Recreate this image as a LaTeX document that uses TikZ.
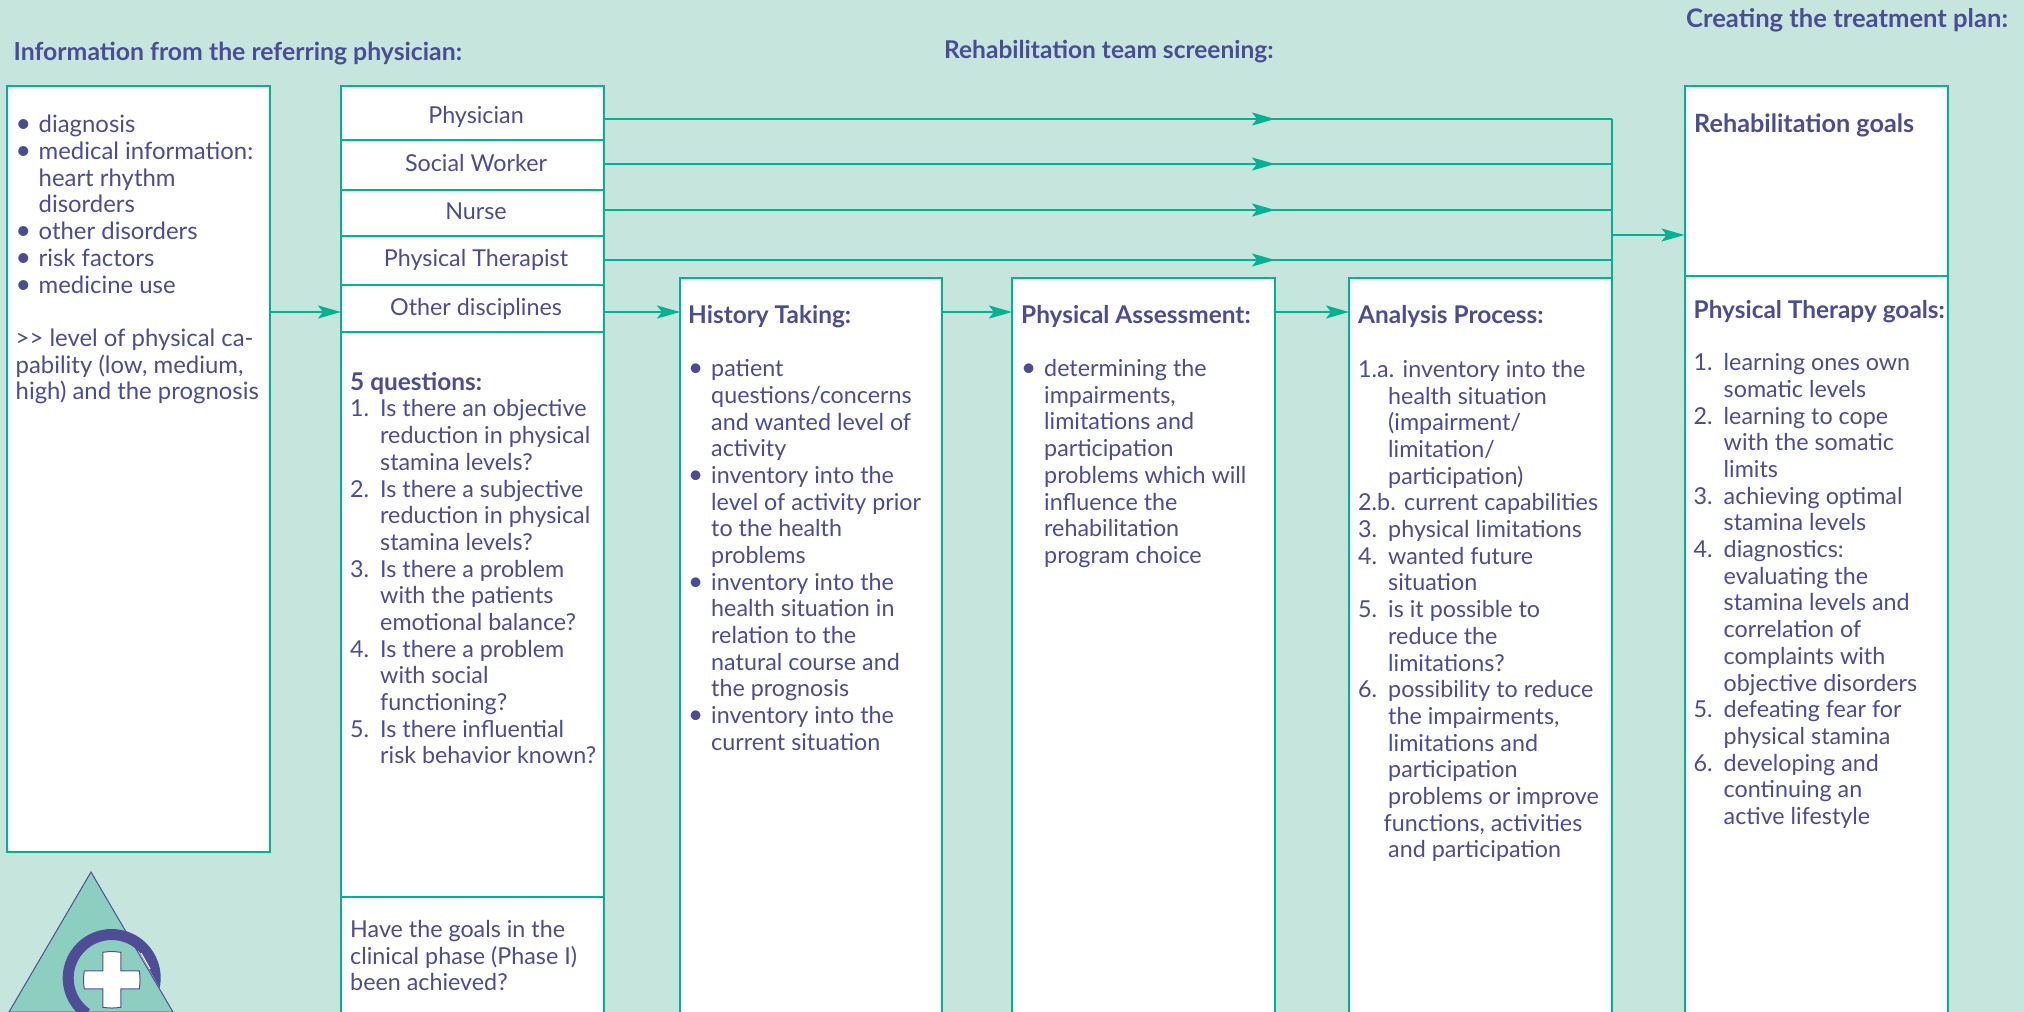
\documentclass[tikz,border=0pt]{standalone}
\usepackage{fontspec}
\setmainfont{Lato}
\usetikzlibrary{arrows.meta, calc}
\definecolor{rehabbg}{RGB}{198,230,221}
\definecolor{rehabline}{RGB}{0,178,148}
\definecolor{rehabtext}{RGB}{75,76,148}
\definecolor{rehablogo}{RGB}{140,207,192}
\definecolor{rehabring}{RGB}{79,77,150}
\newcommand{\bul}{\makebox[23pt][l]{\scalebox{1.12}{\textbullet}}}
\newcommand{\num}[1]{\makebox[30pt][l]{#1}}
\newcommand{\cont}{\hspace*{30pt}}
\newcommand{\bcont}{\hspace*{23pt}}
\newcommand{\headfont}{\fontsize{24.4}{26.7}\selectfont\bfseries}

\begin{document}
\begin{tikzpicture}[x=1pt,y=-1pt,
    panel/.style={draw=rehabline, fill=white, line width=2pt, anchor=north west, inner sep=0pt, outer sep=0pt},
    rowbox/.style={panel, minimum width=263pt},
    rowlabel/.style={text=rehabtext, inner sep=0pt, font=\fontsize{23.3}{26.7}\selectfont},
    bodytext/.style={text=rehabtext, anchor=north west, inner sep=0pt, align=left, font=\fontsize{23.3}{26.7}\selectfont},
    heading/.style={text=rehabtext, anchor=west, inner sep=0pt, font=\headfont},
    flowline/.style={draw=rehabline, line width=2pt},
    flowarrow/.style={flowline, -{Stealth[length=23pt, width=13pt, inset=5pt]}}]
\fill[rehabbg] (0,0) rectangle (2024,1012);
\useasboundingbox (0,0) rectangle (2024,1012);

% Logo in the lower left corner
\draw[fill=rehablogo, draw=rehabring, line width=1pt] (91,872) -- (173,1012) -- (9,1012) -- cycle;
\coordinate (ringcentre) at (111.7,978);
\fill[rehabring] ($(ringcentre)+(-11.7:49pt)$) arc[start angle=-11.7, end angle=235, radius=49pt]
    -- ($(ringcentre)+(235:38pt)$) arc[start angle=235, end angle=43, radius=38pt] -- cycle;
\draw[white, line width=1pt] (141,953) -- (150,969);
\draw[fill=white, draw=rehabring, line width=1pt, shift={(111.8,979.8)}] (-9,-27.5) to[bend left=8] (9,-27.5) -- (9,-9)
    -- (27.5,-9) to[bend left=8] (27.5,9) -- (9,9) -- (9,27.5) to[bend left=8] (-9,27.5) -- (-9,9)
    -- (-27.5,9) to[bend left=8] (-27.5,-9) -- (-9,-9) -- cycle;

% Column headings
\node[heading, font=\fontsize{24.8}{26.7}\selectfont\bfseries] (headReferral) at (13.5,54) {Information from the referring physician:};
\node[heading, font=\fontsize{24.5}{26.7}\selectfont\bfseries] (headTeam) at (944,51.5) {Rehabilitation team screening:};
\node[heading, font=\fontsize{25.6}{26.7}\selectfont\bfseries] (headPlan) at (1686,20.5) {Creating the treatment plan:};

% Boxes
\node[panel, minimum width=263pt, minimum height=766pt] (referral) at (7,86) {};
\node[rowbox, minimum height=54pt] (rowPhysician) at (341,86) {};
\node[rowbox, minimum height=50pt] (rowSocial) at (341,140) {};
\node[rowbox, minimum height=46pt] (rowNurse) at (341,190) {};
\node[rowbox, minimum height=49pt] (rowTherapist) at (341,236) {};
\node[rowbox, minimum height=47pt] (rowOther) at (341,285) {};
\node[panel, minimum width=263pt, minimum height=565pt] (questions) at (341,332) {};
\node[panel, minimum width=263pt, minimum height=123pt] (clinical) at (341,897) {};
\node[panel, minimum width=262pt, minimum height=742pt] (history) at (680,278) {};
\node[panel, minimum width=263pt, minimum height=742pt] (assessment) at (1012,278) {};
\node[panel, minimum width=263pt, minimum height=742pt] (analysis) at (1349,278) {};
\node[panel, minimum width=263pt, minimum height=190pt] (planRehab) at (1684.5,86) {};
\node[panel, minimum width=263pt, minimum height=744pt] (planTherapy) at (1684.5,276) {};

% Row labels
\foreach \y/\name/\lab in {117/labelPhysician/Physician, 163/labelSocial/Social Worker, 211/labelNurse/Nurse,
    260/labelTherapist/Physical Therapist, 308.5/labelOther/Other disciplines}
    \node[rowlabel] (\name) at (476,\y) {\lab};

% Connectors
\coordinate (flowlevel) at (0,312);
\foreach \from/\to in {referral/rowOther, rowOther/history, history/assessment, assessment/analysis}
    \draw[flowarrow] (\from.east |- flowlevel) -- (\to.west |- flowlevel);
\foreach \row/\level in {rowPhysician/119, rowSocial/164, rowNurse/210, rowTherapist/260} {
    \coordinate (bus) at (analysis.north east |- 0,\level);
    \draw[flowline] (\row.east |- bus) -- (bus);
    \draw[flowarrow] (\row.east |- bus) -- (assessment.east |- bus);
}
\coordinate (busTop) at (analysis.north east |- 0,119);
\draw[flowline] (busTop) -- (analysis.north east);
\coordinate (planIn) at (planRehab.west |- 0,235);
\draw[flowarrow, line width=1.5pt] (analysis.north east |- planIn) -- (planIn);

% Texts
\node[bodytext, font=\fontsize{23.9}{26.7}\selectfont] (referralText) at (15.5,114) {\strut\bul diagnosis\\
    \bul medical information:\\ \bcont heart rhythm\\ \bcont disorders\\
    \bul other disorders\\ \bul risk factors\\ \bul medicine use\\[26.7pt]
    {>}{>} level of physical ca-\\ pability (low, medium,\\ high) and the prognosis};
\node[bodytext] (questionsText) at (350,372) {\strut{\headfont 5 questions:}\\[-0.7pt]
    \num{1.}Is there an objective\\ \cont reduction in physical\\ \cont stamina levels?\\
    \num{2.}Is there a subjective\\ \cont reduction in physical\\ \cont stamina levels?\\
    \num{3.}Is there a problem\\ \cont with the patients\\ \cont emotional balance?\\
    \num{4.}Is there a problem\\ \cont with social\\ \cont functioning?\\
    \num{5.}Is there influential\\ \cont risk behavior known?};
\node[bodytext] (clinicalText) at (350,919) {\strut Have the goals in the\\[-0.5pt] clinical phase (Phase I)\\[-0.5pt] been achieved?};
\node[bodytext] (historyText) at (688,305) {\strut{\headfont History Taking:}\\[26pt]
    \bul patient\\ \bcont questions/concerns\\ \bcont and wanted level of\\ \bcont activity\\
    \bul inventory into the\\ \bcont level of activity prior\\ \bcont to the health\\ \bcont problems\\
    \bul inventory into the\\ \bcont health situation in\\ \bcont relation to the\\ \bcont natural course and\\ \bcont the prognosis\\
    \bul inventory into the\\ \bcont current situation};
\node[bodytext] (assessmentText) at (1021,305) {\strut{\headfont Physical Assessment:}\\[26pt]
    \bul determining the\\ \bcont impairments,\\ \bcont limitations and\\ \bcont participation\\
    \bcont problems which will\\ \bcont influence the\\ \bcont rehabilitation\\ \bcont program choice};
\node[bodytext] (analysisText) at (1358,305) {\strut{\headfont Analysis Process:}\\[26.7pt]
    \makebox[44.5pt][l]{1.a.}inventory into the\\ \cont health situation\\ \cont (impairment/\\ \cont limitation/\\ \cont participation)\\
    \makebox[46pt][l]{2.b.}current capabilities\\
    \num{3.}physical limitations\\
    \num{4.}wanted future\\ \cont situation\\
    \num{5.}is it possible to\\ \cont reduce the\\ \cont limitations?\\
    \num{6.}possibility to reduce\\ \cont the impairments,\\ \cont limitations and\\ \cont participation\\ \cont problems or improve\\
    \hspace*{25.5pt}functions, activities\\ \cont and participation};
\node[heading, font=\fontsize{25.2}{26.7}\selectfont\bfseries] (rehabGoals) at (1694,125) {Rehabilitation goals};
\node[bodytext] (therapyText) at (1693.5,300) {\strut{\headfont Physical Therapy goals:}\\[25pt]
    \num{1.}learning ones own\\ \cont somatic levels\\
    \num{2.}learning to cope\\ \cont with the somatic\\ \cont limits\\
    \num{3.}achieving optimal\\ \cont stamina levels\\
    \num{4.}diagnostics:\\ \cont evaluating the\\ \cont stamina levels and\\ \cont correlation of\\ \cont complaints with\\ \cont objective disorders\\
    \num{5.}defeating fear for\\ \cont physical stamina\\
    \num{6.}developing and\\ \cont continuing an\\ \cont active lifestyle};
\end{tikzpicture}
\end{document}
